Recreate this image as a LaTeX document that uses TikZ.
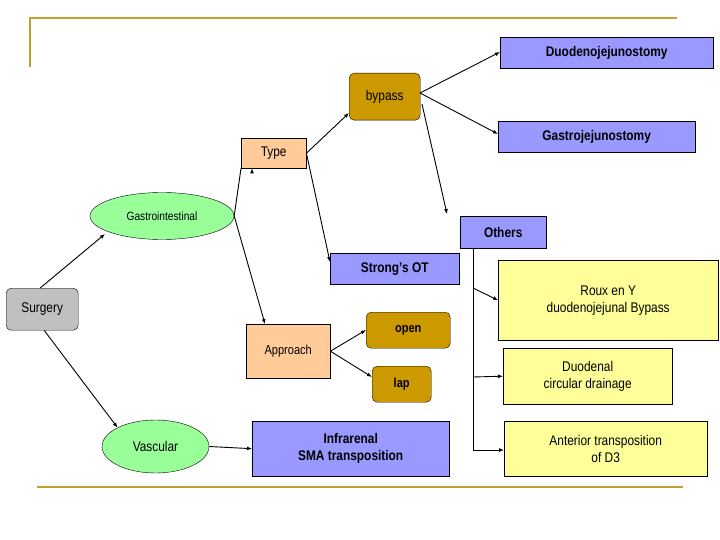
\documentclass[tikz,border=0pt]{standalone}
\usepackage{fontspec}
\setmainfont{Liberation Sans}[FakeStretch=0.85]
\usetikzlibrary{shapes.geometric,arrows.meta}
\definecolor{blu}{HTML}{9999FF}
\definecolor{yel}{HTML}{FFFF99}
\definecolor{sal}{HTML}{FFCC99}
\definecolor{gld}{HTML}{CC9900}
\definecolor{grn}{HTML}{99FF99}
\definecolor{gry}{HTML}{C0C0C0}
\definecolor{lin}{HTML}{C0A030}
\begin{document}
\begin{tikzpicture}[x=1pt,y=-1pt,
  box/.style={draw=black,thin,align=center,inner sep=0pt,anchor=north west},
  arr/.style={-{Latex[length=5pt,width=4pt]},line width=0.9pt},
  bl/.style={box,fill=blu,font=\fontsize{14}{16}\selectfont\bfseries},
  yl/.style={box,fill=yel,font=\fontsize{14}{17}\selectfont},
  gd/.style={box,fill=gld,rounded corners=5pt},
  el/.style={draw=black,thin,ellipse,fill=grn,inner sep=0pt}]
\fill[white] (0,0) rectangle (720,540);
\useasboundingbox (0,0) rectangle (720,540);
\draw[lin,line width=2.5pt] (30,67) -- (30,18) -- (677,18);
\draw[lin,line width=2.5pt] (37,487) -- (683,487);
\node[bl,minimum width=213pt,minimum height=31pt] (duo) at (500,37) {Duodenojejunostomy};
\node[gd,minimum width=71pt,minimum height=47pt,font=\fontsize{14}{16}\selectfont] (byp) at (349,73) {bypass};
\node[bl,minimum width=197pt,minimum height=31pt] (gas) at (498,121) {Gastrojejunostomy};
\node[box,fill=sal,minimum width=65pt,minimum height=30pt,font=\fontsize{14}{16}\selectfont] (typ) at (241,138) {Type};
\node[el,minimum width=144pt,minimum height=47pt,font=\fontsize{12}{14}\selectfont] (gi) at (162,216) {Gastrointestinal};
\node[bl,minimum width=86pt,minimum height=32pt] (oth) at (460,216) {Others};
\node[bl,minimum width=129pt,minimum height=31pt] (str) at (330,253) {Strong’s OT};
\node[box,fill=gry,rounded corners=5pt,minimum width=72pt,minimum height=42pt,font=\fontsize{14}{16}\selectfont] (sur) at (6,288) {Surgery};
\node[yl,minimum width=220pt,minimum height=80pt] (rou) at (498,260) {Roux en Y\\duodenojejunal Bypass};
\node[box,fill=sal,minimum width=84pt,minimum height=54pt,font=\fontsize{13}{15}\selectfont] (app) at (246,324) {Approach};
\node[gd,minimum width=84pt,minimum height=36pt,font=\fontsize{13}{15}\selectfont\bfseries] (opn) at (366,312) {open};
\node[gd,minimum width=59pt,minimum height=36pt,font=\fontsize{13}{15}\selectfont\bfseries] (lap) at (372,366) {lap};
\node[yl,minimum width=169pt,minimum height=56pt] (dcd) at (503,348) {Duodenal\\circular drainage};
\node[el,minimum width=107pt,minimum height=53pt,font=\fontsize{14}{16}\selectfont] (vas) at (155.5,446.5) {Vascular};
\node[bl,minimum width=197pt,minimum height=55pt,font=\fontsize{14}{17}\selectfont\bfseries] (inf) at (252,421) {Infrarenal\\SMA transposition};
\node[yl,minimum width=203pt,minimum height=55pt] (ant) at (504,421) {Anterior transposition\\of D3};
\draw[arr] (sur.north) ++(-2,0) -- (105,234);
\draw[arr] (sur.south) ++(2,0) -- (vas.north west);
\draw[arr] (gi.east) -- (typ.south west) ++(11,0);
\draw[arr] (gi.east) -- (265,324);
\draw[arr] (typ.east) -- (349,113);
\draw[arr] (typ.east) -- (330,262);
\draw[arr] (420,93) -- (500,52);
\draw[arr] (420,93) -- (498,134);
\draw[arr] (422,104) -- (447,214);
\draw[arr] (app.east) -- (366,330);
\draw[arr] (app.east) -- (372,377);
\draw[arr] (vas.east) -- (inf.west);
\coordinate (vt) at (473,248);
\coordinate (vb) at (473,450);
\draw[thin] (vt) -- (vb);
\draw[arr] (473,288) -- (rou.west);
\draw[arr] (473,377) -- (dcd.west);
\draw[arr] (vb) -- (ant.west |- vb);
\end{tikzpicture}
\end{document}
